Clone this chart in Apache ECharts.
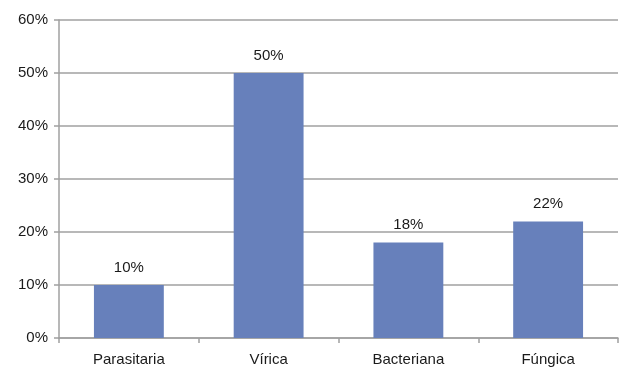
<!DOCTYPE html>
<html>
<head>
<meta charset="utf-8">
<script src="https://cdn.jsdelivr.net/npm/echarts@6/dist/echarts.min.js"></script>
<style>
  html, body { margin: 0; padding: 0; background: #fff; }
  #chart { width: 624px; height: 369px; }
</style>
</head>
<body>
<div id="chart"></div>
<script>
// Infection type shares (percent)
const categories = ['Parasitaria', 'Vírica', 'Bacteriana', 'Fúngica'];
const shares = [10, 50, 18, 22];

const font = 'Liberation Sans, Arial, Helvetica, sans-serif';

const chart = echarts.init(document.getElementById('chart'), null, { renderer: 'canvas' });
chart.setOption({
  animation: false,
  grid: { left: 59, right: 6, top: 20, bottom: 31, containLabel: false },
  xAxis: {
    type: 'category',
    data: categories,
    axisLine: { show: true, lineStyle: { color: '#a0a0a0', width: 1.5 } },
    axisTick: { show: true, length: 5, lineStyle: { color: '#a0a0a0', width: 1.5 } },
    axisLabel: { color: '#1a1a1a', fontFamily: font, fontSize: 15, margin: 14 },
    splitLine: { show: false }
  },
  yAxis: {
    type: 'value',
    min: 0,
    max: 60,
    interval: 10,
    axisLine: { show: true, lineStyle: { color: '#a0a0a0', width: 1.5 } },
    axisTick: { show: true, length: 5, lineStyle: { color: '#a0a0a0', width: 1.5 } },
    axisLabel: { color: '#1a1a1a', fontFamily: font, fontSize: 15, margin: 11, formatter: '{value}%' },
    splitLine: { show: true, lineStyle: { color: '#a0a0a0', width: 1.5 } }
  },
  series: [{
    type: 'bar',
    data: shares,
    barWidth: '50%',
    itemStyle: { color: '#6780bb' },
    label: {
      show: true,
      position: 'top',
      distance: 10,
      color: '#1a1a1a',
      fontFamily: font,
      fontSize: 15,
      formatter: '{c}%'
    }
  }]
});
</script>
</body>
</html>
